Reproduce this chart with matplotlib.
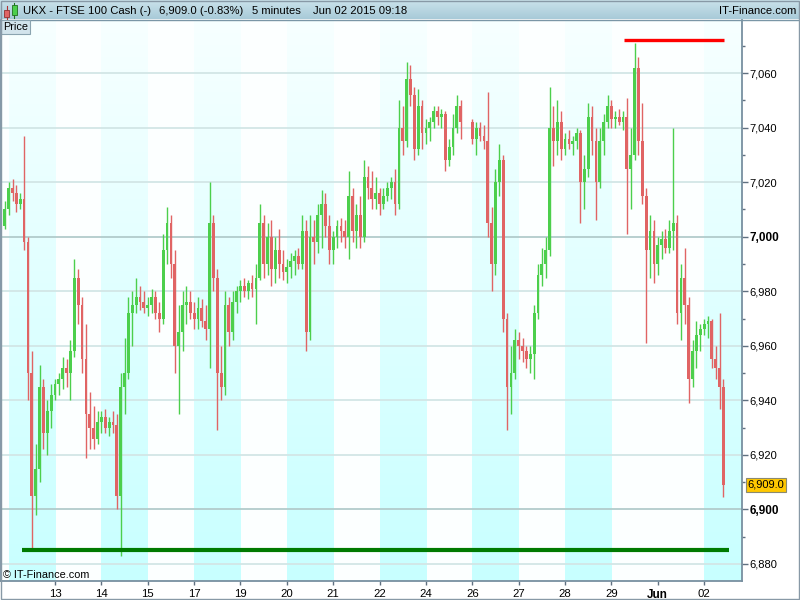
import numpy as np
import pandas as pd
import matplotlib
matplotlib.use('Agg')
import matplotlib.pyplot as plt
from matplotlib.patches import Rectangle
from matplotlib.colors import LinearSegmentedColormap
from matplotlib.ticker import FixedLocator

plt.rcParams['font.family'] = ['Liberation Sans', 'DejaVu Sans']

# ---------------- data ----------------
title = "UKX - FTSE 100 Cash (-)"
last_text = "6,909.0 (-0.83%)"
interval = "5 minutes"
stamp = "Jun 02 2015 09:18"
brand = "IT-Finance.com"
panel = "Price"
copyright_txt = "\u00a9 IT-Finance.com"

day_labels = ['13', '14', '15', '17', '19', '20', '21', '22', '24', '26', '27', '28', '29', 'Jun', '02']
bold_day_labels = ['Jun']
shaded_days = [0, 2, 4, 6, 8, 10, 12, 15]   # session index, 0 = May 12
bars_per_day = 12

y_ticks = [6880, 6900, 6920, 6940, 6960, 6980, 7000, 7020, 7040, 7060]
bold_levels = [6900, 7000]

nan = float('nan')
first_open = 7004
closes = [7010, 7018, 7016, 7012, 7014, 6998, 6950, 6905, 6915, 6945,
          6928, 6936, 6942, 6946, 6948, 6952, 6950, 6958, 6985, 6975,
          6955, 6935, 6930, 6926, 6932, 6934, 6930, 6932, 6931, 6905,
          6945, 6950, 6972, 6975, 6978, 6976, 6974, 6975, 6978, 6972,
          6970, 6995, 7005, 6990, 6960, 6965, 6975, 6976, 6972, 6970,
          6974, 6969, 6966, 7005, 6985, 6950, 6945, 6975, 6965, 6976,
          6980, 6982, 6980, 6983, 6981, 6985, 7005, 6990, 7000, 6988,
          6995, 6990, 6987, 6989, 6991, 6993, 6990, 7002, 6965, 7000,
          6998, 7008, 7012, 7004, 6995, 7000, 7004, 7002, 7000, 7015,
          7002, 7008, 7000, 7022, 7018, 7014, 7016, 7012, 7015, 7018,
          7020, 7012, 7040, 7035, 7058, 7052, 7032, 7048, 7038, 7040,
          7042, 7046, 7044, 7045, 7028, 7033, 7040, 7048, 7042, nan,
          nan, 7036, 7040, 7037, 7035, 7005, 6990, 7020, 7028, 6970,
          6945, 6950, 6962, 6960, 6958, 6955, 6957, 6972, 6986, 6990,
          6995, 7040, 7035, 7042, 7032, 7036, 7034, 7035, 7038, 7020,
          7025, 7044, 7035, 7020, 7035, 7042, 7048, 7043, 7044, 7042,
          7044, 7025, 7030, 7062, 7035, 7015, 6995, 7002, 6990, 6997,
          6999, 6996, 7002, 7005, 6972, 6985, 6975, 6948, 6958, 6964,
          6966, 6968, 6969, 6955, 6952, 6945, 6909]
highs = [7013, 7020, 7021, 7019, 7016, 7037, 7000, 6958, 6924, 6953,
         6948, 6940, 6946, 6948, 6950, 6956, 6955, 6962, 6992, 6988,
         6978, 6968, 6943, 6938, 6936, 6936, 6937, 6934, 6936, 6935,
         6950, 6963, 6978, 6980, 6985, 6982, 6980, 6978, 6981, 6980,
         6976, 7001, 7011, 7008, 6995, 6975, 6980, 6982, 6980, 6976,
         6978, 6977, 6975, 7020, 7008, 6988, 6960, 6980, 6978, 6980,
         6982, 6984, 6985, 6984, 6986, 6990, 7012, 7008, 7005, 7006,
         7000, 7003, 6995, 6992, 6994, 6995, 6996, 7008, 7006, 7008,
         7006, 7012, 7017, 7016, 7008, 7002, 7006, 7007, 7006, 7024,
         7018, 7012, 7015, 7028, 7026, 7024, 7022, 7018, 7018, 7020,
         7022, 7025, 7050, 7048, 7064, 7063, 7055, 7054, 7050, 7043,
         7044, 7048, 7048, 7047, 7046, 7036, 7045, 7052, 7050, nan,
         nan, 7043, 7042, 7042, 7041, 7053, 7011, 7025, 7034, 7030,
         6972, 6960, 6966, 6965, 6963, 6960, 6960, 6975, 6990, 6996,
         7000, 7055, 7048, 7050, 7046, 7038, 7039, 7037, 7040, 7039,
         7030, 7049, 7048, 7040, 7040, 7045, 7052, 7050, 7046, 7047,
         7046, 7051, 7040, 7071, 7066, 7049, 7018, 7008, 7006, 7000,
         7002, 7003, 7006, 7040, 7008, 6990, 6996, 6978, 6962, 6969,
         6968, 6970, 6971, 6970, 6960, 6972, 6948]
lows = [7003, 7008, 7013, 7009, 7010, 6995, 6940, 6886, 6898, 6910,
        6922, 6920, 6930, 6940, 6942, 6944, 6945, 6940, 6956, 6968,
        6950, 6919, 6922, 6922, 6924, 6928, 6928, 6927, 6928, 6900,
        6883, 6935, 6948, 6960, 6972, 6973, 6972, 6971, 6972, 6970,
        6965, 6968, 6990, 6985, 6950, 6935, 6958, 6968, 6970, 6966,
        6966, 6967, 6962, 6952, 6980, 6929, 6940, 6942, 6960, 6962,
        6972, 6976, 6978, 6977, 6978, 6968, 6984, 6985, 6986, 6982,
        6983, 6985, 6984, 6983, 6985, 6986, 6988, 6988, 6958, 6962,
        6990, 6994, 6996, 7000, 6990, 6990, 6996, 6998, 6996, 6992,
        6998, 6996, 6996, 6998, 7014, 7010, 7010, 7008, 7010, 7013,
        7014, 7008, 7010, 7030, 7033, 7048, 7028, 7030, 7032, 7034,
        7035, 7040, 7041, 7040, 7024, 7026, 7030, 7038, 7036, nan,
        nan, 7034, 7030, 7035, 7032, 7000, 6980, 6986, 7015, 6965,
        6929, 6935, 6948, 6955, 6954, 6952, 6950, 6948, 6970, 6982,
        6985, 6993, 7026, 7030, 7028, 7030, 7032, 7030, 7032, 7005,
        7010, 7022, 7030, 7006, 7018, 7030, 7040, 7040, 7040, 7041,
        7039, 7001, 7010, 7028, 7030, 7012, 6961, 6985, 6983, 6986,
        6992, 6994, 6994, 6995, 6968, 6962, 6968, 6939, 6945, 6952,
        6958, 6964, 6963, 6952, 6948, 6937, 6904.6]

last_price = 6909.0
resistance = 7072.0
resistance_span = (160.3, 186.2)
support = 6885.0
support_span = (4.5, 187.5)

# ---------------- build ----------------
c = pd.Series(closes, dtype=float)
o = c.shift(1).ffill()
o.iloc[0] = first_open
h = pd.Series(highs, dtype=float)
l = pd.Series(lows, dtype=float)
idx = np.arange(len(c))

W, H = 800, 600
fig = plt.figure(figsize=(8, 6), dpi=100, facecolor='white')
ax_l, ax_r, ax_t, ax_b = 1, 742, 20, 581
ax = fig.add_axes([ax_l / W, 1 - ax_b / H, (ax_r - ax_l) / W, (ax_b - ax_t) / H])
ax.set_facecolor('#FCFFFF')

xlim = (-0.98, 190.8)
ylim = (6873.76, 7079.46)

band_cmap = LinearSegmentedColormap.from_list('band', ['#C8FFFF', '#F7FFFF'])
grad = np.linspace(0, 1, 256).reshape(-1, 1)
for k in shaded_days:
    x0 = 1 + bars_per_day * k
    x1 = x0 + bars_per_day
    ax.imshow(grad, cmap=band_cmap, origin='lower', aspect='auto',
              extent=(x0, x1, ylim[0], ylim[1]), zorder=0, interpolation='bilinear')

for lv in np.arange(6880, 7080, 20):
    col = '#B2CCCC' if lv in bold_levels else '#D2E6E6'
    ax.axhline(lv, color=col, lw=1.3, zorder=1)

up_col, dn_col = '#4CCF4C', '#E06464'
valid = ~c.isna()
for i in idx[valid.values]:
    col = up_col if c[i] >= o[i] else dn_col
    ax.vlines(i, l[i], h[i], color=col, lw=1.0, zorder=3)
    lo_b, hi_b = min(o[i], c[i]), max(o[i], c[i])
    ax.bar(i, max(hi_b - lo_b, 0.4), bottom=lo_b, width=0.72, color=col,
           linewidth=0, zorder=3)

ax.plot(resistance_span, [resistance, resistance], color='#FF0000', lw=2.4,
        solid_capstyle='butt', zorder=4)
ax.plot(support_span, [support, support], color='#007A00', lw=3.0,
        solid_capstyle='butt', zorder=4)

ax.set_xlim(*xlim)
ax.set_ylim(*ylim)

# y axis on right
ax.yaxis.tick_right()
ax.yaxis.set_minor_locator(FixedLocator(np.arange(6890, 7080, 20)))
ax.set_yticks(y_ticks)
ax.set_yticklabels([f"{v:,}" for v in y_ticks], fontsize=8)
for t, v in zip(ax.get_yticklabels(), y_ticks):
    if v in bold_levels:
        t.set_fontweight('bold')
        t.set_fontsize(8.5)
ax.tick_params(axis='y', which='major', length=4, width=1, color='#607080', pad=1.2,
               labelcolor='black')
ax.tick_params(axis='y', which='minor', length=2.2, width=1, color='#607080')

xt = [1 + bars_per_day * (k + 1) for k in range(len(day_labels))]
ax.set_xticks(xt)
ax.set_xticklabels(day_labels, fontsize=8.2)
for t, s in zip(ax.get_xticklabels(), day_labels):
    if s in bold_day_labels:
        t.set_fontweight('bold')
        t.set_fontsize(8.5)
ax.tick_params(axis='x', length=3, width=1, color='#607080', pad=2.5)

for s in ['left', 'right', 'bottom']:
    ax.spines[s].set_color('#7890A0')
    ax.spines[s].set_linewidth(1.3)
ax.spines['top'].set_visible(False)

# last price label
ax.annotate(f"{last_price:,.1f}", xy=(1.0, last_price),
            xycoords=('axes fraction', 'data'), xytext=(4, 0),
            textcoords='offset points', fontsize=8, va='center', ha='left',
            color='black', annotation_clip=False,
            bbox=dict(boxstyle='square,pad=0.15', fc='#FFC800', ec='#8A8A70', lw=0.8),
            zorder=6)

# ---------------- overlay (pixel coords) ----------------
ov = fig.add_axes([0, 0, 1, 1], facecolor='none')
ov.set_xlim(0, W)
ov.set_ylim(H, 0)
ov.axis('off')

hdr_cmap = LinearSegmentedColormap.from_list('hdr', ['#CCE4EC', '#A8CAD8'])
ov.imshow(np.linspace(0, 1, 64).reshape(-1, 1), cmap=hdr_cmap, aspect='auto',
          extent=(0, W, 19.5, 0), zorder=1)
ov.plot([0, W], [19.5, 19.5], color='#7A96A6', lw=1.0, zorder=2)

# candle icon
ov.plot([6.5, 6.5], [6, 19], color='#B03030', lw=0.8, zorder=3)
ov.add_patch(Rectangle((4, 10), 5, 7, fc='#E06464', ec='#903030', lw=0.6, zorder=4))
ov.plot([14, 14], [3, 18], color='#207020', lw=0.8, zorder=3)
ov.add_patch(Rectangle((11.5, 5), 5, 10, fc='#4CCF4C', ec='#207020', lw=0.6, zorder=4))

hfs = 8.1
ov.text(23, 10.5, title, fontsize=hfs, va='center', ha='left', zorder=5)
ov.text(159, 10.5, last_text, fontsize=hfs, va='center', ha='left', zorder=5)
ov.text(252, 10.5, interval, fontsize=hfs, va='center', ha='left', zorder=5)
ov.text(313, 10.5, stamp, fontsize=hfs, va='center', ha='left', zorder=5)
ov.text(796, 10.5, brand, fontsize=hfs, va='center', ha='right', zorder=5)

ov.add_patch(Rectangle((0.5, 20), 29.5, 14, fc='#D2E4EC', ec='#8AA4B0', lw=0.8, zorder=5))
ov.text(3, 27.5, panel, fontsize=7.8, va='center', ha='left', zorder=6)

ov.text(3, 575.5, copyright_txt, fontsize=7.8, va='center', ha='left', zorder=6)

ov.add_patch(Rectangle((0.5, 0.5), W - 1.5, H - 1.5, fc='none', ec='#8899A6', lw=1.0, zorder=7))

fig.savefig('out.png', dpi=100, facecolor='white')
